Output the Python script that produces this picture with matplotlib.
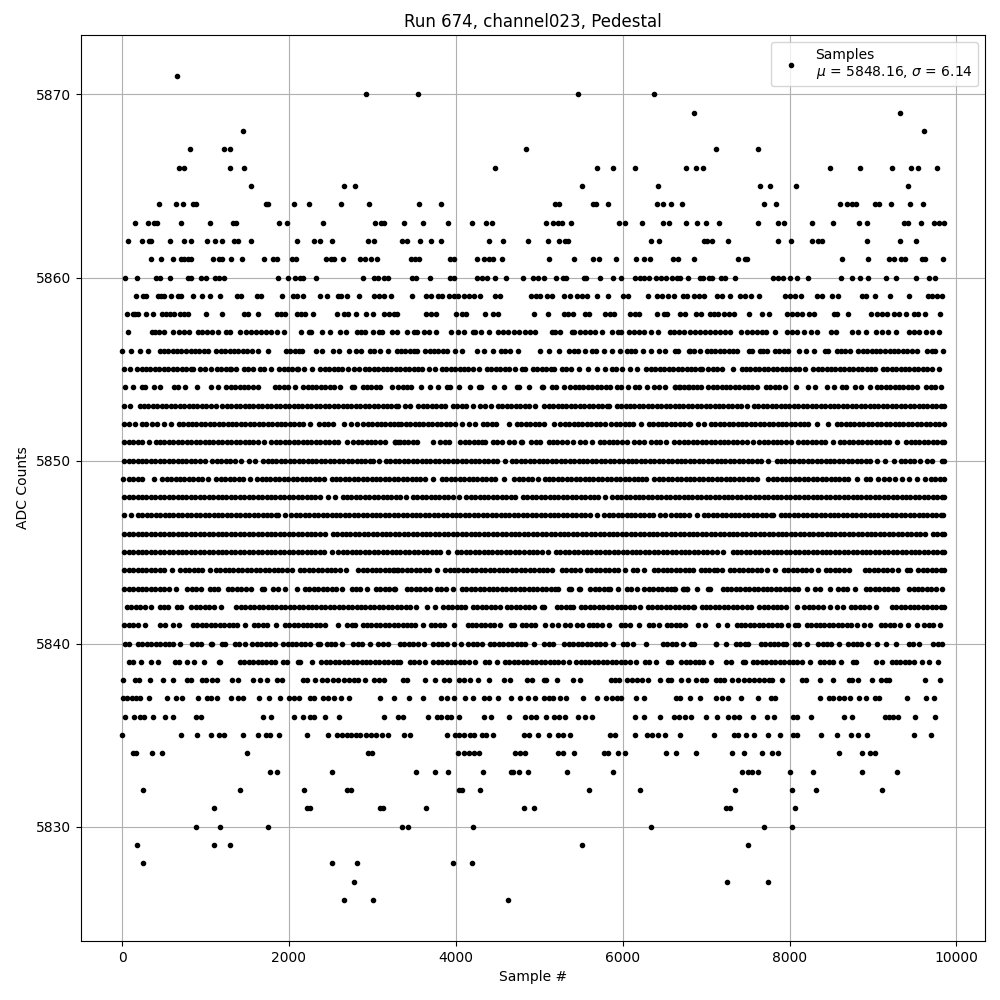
import matplotlib
matplotlib.use('Agg')
import matplotlib.pyplot as plt

# ==========================================================
# Sample numbers, one list per ADC level
# ==========================================================
s5871 = [655]
s5870 = [2918, 3541, 5460, 6372]
s5869 = [6852, 9324]
s5868 = [1445, 9612]
s5867 = [810, 1218, 1290, 4846, 7116, 7620]
s5866 = [680, 740, 1290, 1457, 4475, 5688, 5880, 6144, 6756, 6876, 6960, 8484, 8844, 9228, 9456, 9540, 9768]
s5865 = [1541, 2655, 2786, 5508, 6420, 7644, 7764, 8076, 9420]
s5864 = [440, 643, 727, 848, 890, 1730, 1750, 2056, 2236, 2619, 2954, 3553, 3828, 5192, 5232, 5644, 5680, 5820,
         6408, 6480, 6576, 6708, 7692, 7836, 8604, 8684, 8752, 8792, 9024, 9072, 9216, 9444, 9600]
s5863 = [152, 307, 388, 420, 703, 1050, 1330, 1360, 1876, 1972, 2403, 3026, 3106, 3138, 3373, 3601, 3904, 4188,
         4363, 4430, 5076, 5160, 5220, 5272, 5376, 5960, 6032, 6228, 6484, 6552, 6756, 6888, 6996, 7152, 7616,
         7860, 7932, 8268, 8520, 8832, 8928, 9372, 9424, 9576, 9732, 9790, 9850]
s5862 = [68, 236, 328, 352, 571, 739, 822, 1014, 1110, 1194, 1346, 1394, 1541, 2092, 2296, 2368, 2512, 2942, 3014,
         3350, 3410, 3565, 3697, 3817, 4403, 4561, 4861, 5100, 5240, 5304, 5344, 6336, 6432, 6972, 7012, 7068,
         7260, 7860, 8016, 8268, 8340, 8392, 8928, 9324, 9516]
s5861 = [344, 464, 607, 712, 740, 788, 820, 1086, 1160, 1192, 1302, 1433, 1697, 1812, 1852, 2041, 2081, 2440, 2504,
         2536, 2644, 2856, 2908, 2980, 3052, 3460, 3510, 3560, 3932, 3980, 4250, 4336, 4396, 4448, 4552, 5112,
         5412, 5640, 5712, 5916, 6156, 6252, 6324, 6604, 6660, 6852, 7380, 7460, 7492, 8628, 8940, 9192, 9252,
         9332, 9384, 9584, 9624, 9844]
s5860 = [32, 176, 410, 460, 572, 788, 820, 942, 1006, 1110, 1158, 1222, 1865, 1984, 2077, 2137, 2170, 2320, 2883,
         3023, 3066, 3142, 3186, 3470, 3520, 3685, 3932, 3980, 4250, 4316, 4376, 4472, 4600, 4808, 4928, 4985,
         5052, 5196, 5280, 5320, 5532, 5564, 5724, 5880, 5976, 6152, 6212, 6252, 6312, 6396, 6460, 6524, 6592,
         6652, 6692, 6780, 6932, 6964, 7032, 7072, 7184, 7224, 7344, 7800, 7860, 7920, 8004, 8088, 8224, 8616,
         8744, 8844, 8940, 9156, 9276, 9516, 9672, 9744]
s5859 = [172, 248, 288, 428, 468, 508, 584, 668, 712, 848, 956, 1048, 1172, 1376, 1428, 1616, 1660, 1916, 2044,
         2100, 2164, 2368, 2456, 2584, 2620, 2692, 2840, 3020, 3076, 3136, 3220, 3470, 3640, 3704, 3784, 3840,
         3920, 3976, 4032, 4096, 4156, 4216, 4288, 4472, 4528, 4896, 4956, 5010, 5092, 5152, 5292, 5364, 5448,
         5512, 5572, 5688, 5820, 6000, 6060, 6300, 6412, 6472, 6540, 6612, 6720, 6772, 6852, 6912, 6972, 7128,
         7192, 7284, 7404, 7464, 7532, 7632, 7944, 8004, 8064, 8140, 8332, 8392, 8512, 8580, 8864, 8916, 9024,
         9204, 9432, 9660, 9712, 9772, 9832]
s5858 = [60, 128, 160, 192, 288, 368, 476, 524, 572, 620, 692, 740, 792, 1008, 1196, 1460, 1512, 1628, 1852, 1900,
         1952, 2100, 2140, 2188, 2288, 2576, 2660, 2704, 2808, 2924, 3008, 3140, 3200, 3260, 3300, 3648, 3700,
         3760, 4004, 4080, 4120, 4348, 4440, 4508, 4932, 5100, 5292, 5344, 5404, 5552, 5592, 5792, 5852, 5900,
         6092, 6144, 6196, 6412, 6492, 6532, 6692, 6752, 6880, 6940, 7044, 7092, 7140, 7220, 7272, 7332, 7512,
         7672, 7752, 7968, 8032, 8092, 8152, 8232, 8292, 8532, 8572, 8700, 8972, 9052, 9112, 9172, 9252, 9312,
         9400, 9492, 9540, 9628, 9800]
s5857 = [68, 360, 400, 440, 500, 612, 680, 740, 800, 912, 960, 1012, 1080, 1148, 1240, 1288, 1416, 1488, 1540, 1600,
         1668, 1728, 1788, 1860, 1940, 2144, 2240, 2268, 2400, 2488, 2616, 2688, 2812, 2860, 2912, 3008, 3080,
         3120, 3240, 3292, 3412, 3500, 3532, 3620, 3680, 3764, 3944, 4032, 4100, 4200, 4228, 4300, 4400, 4508,
         4560, 4620, 4700, 4752, 4832, 4892, 4948, 5152, 5192, 5252, 5392, 5412, 5492, 5552, 5612, 5672, 5752,
         5872, 5940, 5980, 6080, 6132, 6192, 6252, 6336, 6420, 6564, 6620, 6680, 6732, 6804, 6872, 6932, 6992,
         7052, 7112, 7172, 7232, 7292, 7420, 7484, 7552, 7612, 7672, 7712, 7824, 7964, 8024, 8092, 8172, 8252,
         8332, 8492, 8552, 8752, 8820, 8912, 9040, 9112, 9180, 9280, 9432, 9492, 9552, 9632, 9712, 9792]
s5856 = [0, 112, 212, 316, 450, 500, 552, 610, 660, 712, 765, 820, 872, 925, 980, 1030, 1130, 1182, 1235, 1290, 1342,
         1395, 1448, 1500, 1555, 1630, 1752, 1962, 2015, 2068, 2120, 2158, 2330, 2398, 2530, 2598, 2720, 2800,
         2868, 2970, 3022, 3090, 3190, 3300, 3340, 3392, 3445, 3498, 3532, 3632, 3685, 3738, 3790, 3845, 3892,
         3992, 4072, 4252, 4332, 4442, 4540, 4592, 4645, 4744, 5012, 5120, 5234, 5360, 5412, 5465, 5544, 5632,
         5685, 5772, 5876, 5972, 6052, 6105, 6152, 6242, 6334, 6432, 6504, 6624, 6664, 6794, 6805, 6858, 6925,
         7005, 7058, 7110, 7165, 7218, 7270, 7322, 7365, 7517, 7545, 7645, 7685, 7735, 7825, 7878, 7930, 7985,
         8115, 8195, 8295, 8425, 8465, 8565, 8618, 8670, 8725, 8825, 8878, 8930, 8985, 9038, 9090, 9145, 9198,
         9250, 9305, 9358, 9410, 9465, 9525, 9653, 9705, 9745, 9835]
s5855 = [25, 95, 182, 235, 288, 340, 395, 448, 500, 555, 608, 660, 715, 768, 820, 850, 938, 990, 1062, 1138, 1190, 1245,
         1298, 1310, 1360, 1458, 1510, 1565, 1650, 1700, 1788, 1882, 1935, 1988, 2040, 2095, 2110, 2180, 2280,
         2378, 2430, 2485, 2538, 2590, 2630, 2708, 2780, 2840, 2910, 2962, 3015, 3068, 3122, 3175, 3228, 3280,
         3335, 3388, 3440, 3495, 3548, 3592, 3674, 3750, 3832, 3885, 3938, 3990, 4045, 4098, 4150, 4205, 4272,
         4372, 4425, 4478, 4530, 4585, 4638, 4704, 4792, 4832, 4924, 4978, 5030, 5082, 5135, 5180, 5272, 5325,
         5378, 5480, 5582, 5692, 5784, 5872, 5925, 5992, 6092, 6172, 6284, 6338, 6390, 6445, 6498, 6550, 6605,
         6658, 6710, 6765, 6818, 6870, 6925, 6945, 7025, 7078, 7130, 7185, 7325, 7425, 7478, 7530, 7585, 7638,
         7690, 7745, 7798, 7850, 7905, 7958, 8010, 8065, 8118, 8185, 8285, 8338, 8390, 8445, 8498, 8550, 8605,
         8658, 8710, 8765, 8818, 8870, 8925, 8978, 9025, 9117, 9170, 9222, 9277, 9330, 9382, 9437, 9490, 9542,
         9597, 9650, 9705, 9795]
s5854 = [30, 130, 238, 278, 378, 450, 618, 670, 758, 900, 1070, 1150, 1250, 1303, 1355, 1410, 1462, 1515, 1570, 1630,
         1830, 1882, 1935, 1990, 2070, 2170, 2223, 2275, 2330, 2382, 2435, 2490, 2542, 2610, 2758, 2782, 2882,
         2935, 2988, 3040, 3090, 3230, 3310, 3362, 3415, 3464, 3580, 3692, 3782, 3892, 3932, 4042, 4174, 4272,
         4300, 4452, 4572, 4732, 4752, 4882, 5032, 5044, 5152, 5205, 5292, 5372, 5425, 5478, 5530, 5585, 5638,
         5690, 5745, 5798, 5850, 5932, 5982, 6062, 6152, 6192, 6290, 6380, 6432, 6512, 6632, 6685, 6792, 6625,
         6678, 6730, 6785, 6838, 6890, 6937, 7025, 7078, 7130, 7185, 7238, 7290, 7345, 7398, 7450, 7505, 7545,
         7615, 7717, 7770, 7822, 7877, 7945, 8075, 8225, 8305, 8445, 8533, 8625, 8677, 8785, 8857, 8967, 9045,
         9098, 9150, 9205, 9258, 9310, 9365, 9418, 9470, 9525, 9637, 9690, 9742, 9817]
s5853 = [25, 90, 210, 263, 316, 370, 423, 476, 530, 583, 636, 690, 743, 796, 850, 903, 956, 1010, 1063, 1130, 1202, 1255,
         1308, 1362, 1415, 1468, 1522, 1575, 1628, 1682, 1735, 1788, 1842, 1895, 1948, 2002, 2055, 2108, 2162,
         2215, 2268, 2322, 2375, 2428, 2482, 2535, 2588, 2642, 2695, 2748, 2802, 2855, 2908, 2962, 3015, 3068,
         3122, 3175, 3228, 3282, 3304, 3392, 3452, 3552, 3605, 3658, 3712, 3765, 3818, 3872, 3964, 4017, 4070,
         4124, 4204, 4292, 4345, 4424, 4504, 4557, 4610, 4664, 4717, 4770, 4824, 4872, 4950, 5060, 5113, 5166,
         5220, 5273, 5326, 5380, 5433, 5486, 5540, 5593, 5646, 5700, 5753, 5806, 5836, 5928, 5981, 6034, 6088,
         6141, 6194, 6248, 6301, 6354, 6408, 6461, 6514, 6568, 6621, 6674, 6728, 6781, 6834, 6888, 6941, 6994,
         7048, 7101, 7154, 7208, 7261, 7314, 7368, 7421, 7485, 7573, 7626, 7679, 7733, 7786, 7839, 7893, 7946,
         7999, 8053, 8106, 8159, 8213, 8266, 8319, 8373, 8426, 8479, 8533, 8586, 8639, 8693, 8746, 8799, 8853,
         8906, 8959, 9013, 9066, 9119, 9173, 9226, 9279, 9333, 9386, 9439, 9493, 9546, 9599, 9653, 9706, 9759, 9813, 9846]
s5852 = [25, 80, 158, 242, 282, 362, 415, 498, 590, 678, 731, 784, 838, 891, 944, 998, 1051, 1104, 1158, 1211, 1264,
         1318, 1371, 1424, 1478, 1531, 1584, 1638, 1691, 1744, 1798, 1851, 1904, 1958, 2011, 2064, 2118, 2171,
         2250, 2362, 2415, 2468, 2522, 2654, 2738, 2810, 2890, 2943, 2996, 3050, 3103, 3156, 3210, 3263, 3310,
         3345, 3398, 3451, 3505, 3558, 3611, 3665, 3718, 3771, 3825, 3878, 3931, 3985, 4080, 4154, 4234, 4324,
         4377, 4430, 4484, 4632, 4732, 4785, 4838, 4892, 4945, 4998, 5052, 5172, 5252, 5305, 5358, 5412, 5465,
         5518, 5572, 5625, 5678, 5732, 5784, 5864, 5917, 5970, 6024, 6077, 6124, 6220, 6312, 6365, 6418, 6472,
         6525, 6578, 6632, 6685, 6738, 6792, 6805, 6905, 6973, 7057, 7110, 7163, 7217, 7270, 7323, 7377, 7430,
         7483, 7537, 7590, 7643, 7697, 7750, 7803, 7857, 7910, 7963, 8017, 8070, 8123, 8177, 8225, 8325, 8465,
         8565, 8618, 8671, 8725, 8778, 8831, 8885, 8938, 8991, 9045, 9098, 9151, 9205, 9258, 9311, 9365, 9418,
         9471, 9525, 9578, 9631, 9685, 9738, 9791, 9848]
s5851 = [25, 80, 133, 186, 240, 318, 402, 455, 508, 562, 615, 668, 722, 775, 828, 882, 935, 988, 1042, 1095, 1148, 1202,
         1255, 1308, 1362, 1415, 1468, 1522, 1575, 1628, 1702, 1790, 1843, 1896, 1950, 2003, 2056, 2110, 2163,
         2216, 2270, 2323, 2376, 2430, 2483, 2536, 2590, 2690, 2770, 2823, 2876, 2930, 2983, 3036, 3090, 3150,
         3270, 3310, 3272, 3325, 3378, 3432, 3485, 3538, 3732, 3812, 3865, 3924, 4052, 4105, 4158, 4212, 4265,
         4318, 4344, 4444, 4497, 4550, 4632, 4694, 4792, 4784, 4904, 4957, 5012, 5112, 5165, 5218, 5272, 5332,
         5402, 5492, 5552, 5638, 5724, 5777, 5830, 5884, 5937, 5990, 6056, 6140, 6193, 6252, 6344, 6397, 6450,
         6524, 6620, 6680, 6735, 6788, 6841, 6895, 6948, 7001, 7055, 7108, 7161, 7215, 7268, 7321, 7375, 7428,
         7485, 7567, 7637, 7690, 7743, 7797, 7850, 7903, 7957, 8017, 8105, 8158, 8211, 8265, 8318, 8371, 8425,
         8525, 8605, 8658, 8711, 8765, 8818, 8871, 8925, 8978, 9031, 9085, 9138, 9191, 9285, 9397, 9450, 9503,
         9557, 9610, 9663, 9717, 9770, 9823, 9850]
s5850 = [25, 78, 131, 185, 238, 291, 345, 398, 451, 505, 558, 611, 665, 718, 771, 825, 878, 931, 998, 1082, 1135, 1188,
         1242, 1295, 1348, 1430, 1522, 1590, 1690, 1743, 1796, 1850, 1903, 1956, 2010, 2063, 2116, 2170, 2223,
         2276, 2330, 2383, 2436, 2490, 2543, 2596, 2650, 2703, 2756, 2810, 2863, 2916, 2970, 3010, 3080, 3162,
         3215, 3268, 3322, 3375, 3430, 3483, 3536, 3590, 3643, 3696, 3750, 3803, 3856, 3910, 3963, 4016, 4070,
         4123, 4176, 4230, 4283, 4336, 4390, 4443, 4496, 4592, 4672, 4725, 4778, 4832, 4885, 4938, 4992, 5045,
         5098, 5152, 5205, 5258, 5312, 5365, 5418, 5472, 5525, 5578, 5632, 5685, 5738, 5792, 5845, 5898, 5952,
         6005, 6058, 6112, 6165, 6218, 6272, 6325, 6378, 6432, 6485, 6538, 6592, 6645, 6698, 6752, 6805, 6858,
         6912, 6965, 7018, 7072, 7125, 7178, 7232, 7285, 7338, 7392, 7445, 7498, 7552, 7605, 7658, 7737, 7845,
         7898, 7951, 8005, 8058, 8111, 8165, 8218, 8271, 8325, 8378, 8431, 8485, 8538, 8591, 8645, 8698, 8751,
         8805, 8858, 8911, 8965, 9045, 9145, 9257, 9333, 9386, 9439, 9493, 9565, 9653, 9705, 9825, 9850]
s5849 = [8, 82, 135, 188, 242, 382, 482, 535, 588, 642, 695, 748, 802, 855, 908, 962, 1030, 1130, 1183, 1236, 1290,
         1343, 1396, 1450, 1534, 1618, 1671, 1724, 1778, 1831, 1884, 1938, 1991, 2044, 2098, 2151, 2204, 2258,
         2311, 2364, 2422, 2510, 2563, 2616, 2670, 2723, 2776, 2830, 2883, 2936, 2990, 3043, 3096, 3150, 3203,
         3256, 3310, 3363, 3416, 3470, 3523, 3576, 3632, 3722, 3832, 3885, 3938, 3992, 4045, 4098, 4152, 4205,
         4258, 4312, 4365, 4418, 4472, 4572, 4700, 4753, 4806, 4860, 4913, 4980, 5064, 5117, 5170, 5224, 5277,
         5330, 5384, 5437, 5490, 5544, 5597, 5650, 5704, 5757, 5810, 5864, 5917, 5970, 6024, 6077, 6130, 6184,
         6237, 6284, 6380, 6433, 6486, 6540, 6593, 6646, 6700, 6753, 6806, 6860, 6913, 6966, 7020, 7073, 7126,
         7180, 7233, 7286, 7340, 7393, 7446, 7500, 7553, 7605, 7745, 7798, 7851, 7905, 7958, 8011, 8065, 8118,
         8171, 8225, 8278, 8331, 8385, 8438, 8491, 8545, 8598, 8651, 8705, 8807, 8917, 8970, 9057, 9133, 9186,
         9265, 9345, 9433, 9533, 9625, 9693, 9746, 9799, 9850]
s5848 = [25, 78, 131, 185, 238, 291, 345, 398, 451, 505, 558, 611, 665, 718, 771, 825, 878, 931, 985, 1038, 1091, 1145,
         1198, 1251, 1305, 1358, 1411, 1465, 1518, 1571, 1625, 1678, 1731, 1785, 1838, 1891, 1945, 1998, 2051,
         2105, 2158, 2211, 2265, 2318, 2370, 2470, 2550, 2642, 2695, 2748, 2802, 2855, 2908, 2962, 3015, 3068,
         3122, 3175, 3228, 3282, 3335, 3400, 3484, 3537, 3590, 3644, 3697, 3750, 3804, 3857, 3910, 3964, 4040,
         4124, 4177, 4230, 4284, 4337, 4390, 4444, 4497, 4550, 4604, 4657, 4712, 4804, 4857, 4910, 4964, 5017,
         5070, 5124, 5177, 5230, 5284, 5337, 5390, 5444, 5497, 5550, 5604, 5657, 5710, 5784, 5876, 5929, 5982,
         6036, 6089, 6142, 6196, 6249, 6302, 6356, 6409, 6462, 6516, 6569, 6622, 6676, 6729, 6782, 6836, 6889,
         6942, 6996, 7049, 7102, 7156, 7209, 7262, 7316, 7369, 7422, 7476, 7529, 7582, 7636, 7689, 7742, 7796,
         7849, 7902, 7956, 8009, 8062, 8116, 8169, 8222, 8276, 8329, 8382, 8436, 8489, 8542, 8596, 8649, 8702,
         8756, 8809, 8862, 8916, 8969, 9022, 9076, 9129, 9182, 9236, 9289, 9342, 9396, 9449, 9502, 9556, 9609,
         9662, 9716, 9769, 9822, 9846]
s5847 = [25, 110, 190, 243, 296, 350, 403, 456, 510, 563, 616, 670, 723, 776, 830, 883, 936, 990, 1043, 1096, 1150, 1203,
         1256, 1310, 1363, 1416, 1470, 1523, 1576, 1630, 1683, 1736, 1790, 1843, 1870, 1948, 2030, 2083, 2136,
         2190, 2243, 2296, 2350, 2403, 2456, 2510, 2563, 2616, 2670, 2723, 2776, 2830, 2883, 2936, 2990, 3043,
         3096, 3150, 3203, 3256, 3310, 3363, 3416, 3470, 3523, 3576, 3630, 3683, 3736, 3790, 3843, 3896, 3950,
         4003, 4056, 4110, 4163, 4216, 4270, 4323, 4376, 4430, 4483, 4536, 4590, 4643, 4696, 4750, 4803, 4856,
         4910, 4963, 5016, 5070, 5123, 5176, 5230, 5283, 5336, 5390, 5443, 5496, 5550, 5603, 5692, 5780, 5833,
         5886, 5940, 5993, 6046, 6100, 6153, 6206, 6260, 6313, 6366, 6452, 6502, 6580, 6633, 6686, 6740, 6793,
         6885, 6973, 7026, 7079, 7133, 7186, 7239, 7293, 7346, 7399, 7453, 7506, 7559, 7613, 7666, 7719, 7773,
         7805, 7893, 7946, 7999, 8053, 8106, 8159, 8213, 8266, 8319, 8373, 8426, 8479, 8533, 8586, 8639, 8693,
         8746, 8799, 8853, 8906, 8959, 9013, 9066, 9119, 9173, 9226, 9279, 9333, 9386, 9439, 9493, 9546, 9599,
         9653, 9706, 9759, 9813, 9843]
s5846 = [25, 78, 131, 185, 238, 291, 345, 398, 451, 505, 558, 611, 665, 718, 771, 825, 878, 931, 985, 1038, 1091, 1145,
         1198, 1251, 1305, 1358, 1411, 1465, 1518, 1571, 1625, 1678, 1731, 1785, 1838, 1891, 1945, 1998, 2051,
         2105, 2158, 2211, 2265, 2318, 2371, 2430, 2530, 2570, 2630, 2683, 2736, 2790, 2843, 2896, 2950, 3003,
         3056, 3110, 3163, 3216, 3270, 3323, 3376, 3430, 3483, 3536, 3590, 3643, 3696, 3750, 3803, 3856, 3910,
         3963, 4016, 4070, 4123, 4176, 4230, 4283, 4336, 4390, 4443, 4496, 4550, 4603, 4656, 4710, 4763, 4816,
         4870, 4923, 4976, 5030, 5083, 5136, 5190, 5243, 5296, 5350, 5403, 5456, 5510, 5563, 5616, 5670, 5723,
         5776, 5830, 5883, 5936, 5990, 6043, 6096, 6150, 6203, 6256, 6310, 6363, 6416, 6470, 6523, 6576, 6630,
         6683, 6736, 6790, 6843, 6896, 6950, 7003, 7056, 7110, 7163, 7216, 7270, 7323, 7376, 7430, 7483, 7536,
         7590, 7643, 7696, 7750, 7803, 7856, 7910, 7963, 8016, 8070, 8123, 8176, 8230, 8283, 8336, 8390, 8443,
         8496, 8550, 8603, 8656, 8710, 8763, 8816, 8870, 8923, 8976, 9030, 9083, 9136, 9190, 9243, 9296, 9350,
         9403, 9456, 9510, 9563, 9625, 9717, 9770, 9823, 9847]
s5845 = [25, 78, 131, 185, 238, 291, 345, 398, 451, 505, 558, 611, 665, 718, 771, 825, 878, 931, 985, 1038, 1091, 1145,
         1198, 1251, 1305, 1358, 1411, 1465, 1518, 1571, 1625, 1678, 1731, 1785, 1838, 1891, 1945, 1998, 2051,
         2105, 2158, 2211, 2265, 2318, 2371, 2425, 2510, 2590, 2643, 2696, 2750, 2803, 2856, 2910, 2963, 3016,
         3070, 3123, 3176, 3230, 3283, 3336, 3390, 3443, 3496, 3550, 3603, 3656, 3710, 3763, 3816, 3904, 4012,
         4065, 4118, 4172, 4225, 4278, 4332, 4385, 4438, 4492, 4545, 4598, 4652, 4705, 4758, 4812, 4872, 4925,
         4978, 5032, 5104, 5200, 5253, 5306, 5360, 5413, 5466, 5520, 5573, 5626, 5680, 5733, 5786, 5840, 5893,
         5946, 6000, 6053, 6106, 6160, 6213, 6266, 6320, 6373, 6426, 6480, 6533, 6586, 6640, 6693, 6746, 6800,
         6853, 6906, 6960, 7013, 7066, 7125, 7205, 7317, 7370, 7423, 7477, 7530, 7583, 7637, 7690, 7743, 7797,
         7850, 7903, 7957, 8010, 8063, 8117, 8170, 8223, 8277, 8330, 8383, 8437, 8490, 8543, 8597, 8650, 8703,
         8757, 8810, 8863, 8917, 8970, 9023, 9077, 9130, 9183, 9237, 9290, 9343, 9397, 9450, 9503, 9557, 9610,
         9663, 9717, 9770, 9823, 9850]
s5844 = [25, 78, 131, 185, 238, 291, 345, 398, 451, 505, 598, 698, 751, 804, 858, 911, 958, 1050, 1122, 1175, 1228, 1282,
         1335, 1388, 1442, 1495, 1548, 1602, 1655, 1708, 1762, 1815, 1868, 1922, 1975, 2038, 2130, 2183, 2236,
         2290, 2343, 2396, 2450, 2503, 2556, 2610, 2678, 2830, 2883, 2936, 2990, 3043, 3096, 3150, 3203, 3256,
         3298, 3252, 3305, 3358, 3412, 3465, 3518, 3572, 3625, 3678, 3772, 3872, 3925, 3978, 4032, 4085, 4138,
         4192, 4245, 4298, 4352, 4405, 4458, 4512, 4565, 4618, 4672, 4725, 4778, 4832, 4885, 4938, 4992, 5045,
         5098, 5152, 5272, 5325, 5378, 5432, 5492, 5572, 5625, 5678, 5732, 5785, 5838, 5892, 5945, 6032, 6124,
         6177, 6260, 6372, 6425, 6478, 6532, 6585, 6638, 6692, 6745, 6798, 6845, 6933, 6986, 7039, 7093, 7125,
         7195, 7285, 7338, 7391, 7445, 7498, 7551, 7605, 7658, 7725, 7827, 7933, 7986, 8039, 8093, 8146, 8199,
         8253, 8345, 8437, 8490, 8543, 8597, 8650, 8713, 8905, 8958, 9011, 9065, 9118, 9171, 9225, 9305, 9405,
         9445, 9545, 9598, 9651, 9705, 9758, 9811, 9850]
s5843 = [25, 78, 131, 185, 238, 291, 345, 398, 451, 505, 558, 650, 782, 835, 888, 950, 1050, 1103, 1150, 1270, 1323,
         1376, 1430, 1483, 1542, 1682, 1698, 1810, 1863, 1958, 2100, 2190, 2243, 2296, 2350, 2403, 2456, 2510,
         2563, 2630, 2750, 2803, 2856, 2930, 3042, 3095, 3148, 3202, 3262, 3272, 3412, 3465, 3518, 3572, 3625,
         3692, 3772, 3825, 3878, 3972, 4072, 4125, 4178, 4232, 4285, 4338, 4392, 4445, 4498, 4552, 4605, 4658,
         4712, 4765, 4818, 4872, 4925, 4978, 5032, 5085, 5138, 5192, 5224, 5360, 5384, 5472, 5492, 5612, 5665,
         5718, 5772, 5825, 5852, 5942, 6052, 6105, 6172, 6260, 6313, 6366, 6420, 6473, 6526, 6580, 6632, 6732,
         6772, 6617, 6725, 6765, 6895, 7025, 7045, 7197, 7250, 7303, 7357, 7410, 7463, 7517, 7570, 7623, 7677,
         7730, 7783, 7837, 7890, 7943, 7997, 8050, 8107, 8205, 8305, 8370, 8485, 8585, 8638, 8691, 8785, 8917,
         8970, 9023, 9077, 9130, 9183, 9237, 9293, 9433, 9486, 9539, 9593, 9646, 9699, 9753, 9825]
s5842 = [58, 111, 164, 218, 271, 342, 450, 503, 550, 658, 702, 830, 883, 936, 990, 1043, 1096, 1182, 1370, 1423, 1476,
         1530, 1583, 1636, 1690, 1743, 1796, 1850, 1903, 1956, 2010, 2063, 2116, 2170, 2223, 2276, 2330, 2383,
         2436, 2490, 2543, 2596, 2650, 2703, 2756, 2810, 2863, 2916, 2970, 3023, 3076, 3130, 3183, 3236, 3292,
         3345, 3398, 3452, 3524, 3652, 3752, 3852, 3905, 3958, 4012, 4065, 4112, 4204, 4257, 4310, 4364, 4417,
         4470, 4532, 4612, 4665, 4718, 4772, 4825, 4878, 4932, 5032, 5060, 5212, 5265, 5318, 5372, 5400, 5500,
         5553, 5606, 5660, 5713, 5766, 5820, 5873, 5926, 5980, 6033, 6086, 6140, 6212, 6304, 6357, 6410, 6464,
         6517, 6570, 6624, 6677, 6730, 6784, 6837, 6857, 6945, 6998, 7051, 7105, 7158, 7211, 7265, 7318, 7371,
         7425, 7485, 7535, 7637, 7690, 7743, 7797, 7850, 7903, 7957, 8085, 8177, 8230, 8283, 8337, 8405, 8485,
         8573, 8635, 8737, 8790, 8843, 8897, 8950, 9037, 9225, 9278, 9331, 9385, 9438, 9491, 9545, 9598, 9651,
         9705, 9758, 9811, 9850]
s5841 = [25, 78, 131, 185, 270, 458, 511, 610, 680, 850, 903, 956, 1010, 1063, 1116, 1170, 1223, 1276, 1330, 1383, 1470,
         1578, 1631, 1684, 1738, 1850, 1950, 2003, 2056, 2110, 2163, 2216, 2270, 2323, 2376, 2430, 2582, 2698,
         2751, 2790, 2882, 2935, 2988, 3042, 3095, 3148, 3202, 3255, 3308, 3362, 3415, 3468, 3512, 3612, 3700,
         3753, 3806, 3860, 3984, 4140, 4193, 4246, 4300, 4353, 4406, 4460, 4532, 4660, 4692, 4792, 4845, 4898,
         4952, 5072, 5152, 5224, 5312, 5365, 5452, 5510, 5592, 5645, 5698, 5752, 5832, 5980, 6033, 6086, 6192,
         6312, 6365, 6440, 6532, 6585, 6638, 6692, 6745, 6905, 6985, 7145, 7245, 7365, 7418, 7471, 7525, 7578,
         7631, 7685, 7738, 7791, 7845, 7898, 7985, 8065, 8097, 8205, 8258, 8311, 8365, 8418, 8471, 8525, 8578,
         8631, 8685, 8738, 8805, 8887, 8967, 9093, 9146, 9199, 9253, 9325, 9423, 9523, 9613, 9666, 9719, 9805]
s5840 = [30, 78, 190, 243, 296, 350, 403, 456, 510, 563, 610, 700, 842, 895, 950, 1070, 1078, 1202, 1238, 1350, 1403,
         1470, 1562, 1615, 1668, 1722, 1775, 1830, 1930, 1983, 2036, 2090, 2143, 2196, 2250, 2350, 2370, 2450,
         2503, 2556, 2638, 2770, 2823, 2876, 2970, 3070, 3123, 3182, 3330, 3383, 3436, 3490, 3543, 3622, 3730,
         3783, 3836, 3890, 3974, 4060, 4150, 4203, 4256, 4310, 4410, 4463, 4516, 4570, 4623, 4676, 4730, 4783,
         4830, 4942, 5062, 5115, 5162, 5302, 5355, 5408, 5462, 5515, 5568, 5622, 5675, 5728, 5782, 5882, 6002,
         6055, 6122, 6282, 6482, 6535, 6588, 6642, 6722, 6822, 6850, 7114, 7122, 7236, 7354, 7407, 7460, 7502,
         7654, 7707, 7760, 7814, 7867, 7920, 7962, 8062, 8115, 8214, 8342, 8395, 8448, 8502, 8590, 8702, 8755,
         8808, 8862, 8942, 9052, 9156, 9276, 9430, 9483, 9550, 9722, 9775, 9830]
s5839 = [82, 135, 222, 350, 430, 630, 683, 782, 860, 980, 1158, 1170, 1410, 1463, 1516, 1570, 1623, 1676, 1730, 1783, 1836,
         1930, 1980, 2110, 2130, 2276, 2390, 2443, 2496, 2550, 2603, 2656, 2710, 2763, 2816, 2870, 2923, 2976,
         3030, 3083, 3136, 3190, 3243, 3300, 3330, 3450, 3503, 3556, 3630, 3730, 3783, 3836, 3890, 3943, 3996,
         4050, 4103, 4156, 4230, 4350, 4403, 4490, 4590, 4643, 4696, 4750, 4803, 4856, 4910, 4963, 5016, 5070,
         5123, 5176, 5230, 5283, 5362, 5442, 5495, 5548, 5602, 5655, 5708, 5762, 5815, 5868, 5922, 5975, 6028,
         6082, 6162, 6262, 6315, 6402, 6542, 6582, 6702, 6755, 6808, 6862, 6915, 6968, 7062, 7234, 7302, 7442,
         7462, 7562, 7615, 7668, 7722, 7775, 7828, 7882, 7935, 7988, 8042, 8095, 8148, 8242, 8362, 8415, 8468,
         8522, 8622, 8762, 8802, 9042, 9102, 9222, 9275, 9328, 9382, 9435, 9488, 9582, 9672, 9784]
s5838 = [8, 152, 208, 332, 492, 608, 772, 820, 960, 1008, 1080, 1140, 1316, 1388, 1568, 1652, 1740, 1860, 1920, 2164,
         2212, 2312, 2400, 2460, 2528, 2588, 2660, 2720, 2780, 2832, 2912, 3020, 3080, 3140, 3372, 3412, 3632,
         3752, 3860, 3920, 4040, 4100, 4172, 4260, 4400, 4572, 4644, 4852, 4908, 5052, 5084, 5208, 5404, 5484,
         5860, 5912, 5952, 6052, 6112, 6172, 6232, 6300, 6444, 6540, 6580, 6696, 6780, 6876, 6952, 6996, 7116,
         7172, 7216, 7308, 7388, 7452, 7512, 7572, 7632, 7692, 7752, 7792, 7912, 8152, 8192, 8364, 8520, 8712,
         8752, 8820, 8988, 9100, 9152, 9196, 9628, 9808]
s5837 = [12, 60, 124, 172, 220, 320, 536, 644, 716, 908, 1012, 1060, 1140, 1304, 1392, 1452, 1640, 1760, 1896, 2000,
         2060, 2120, 2252, 2300, 2412, 2468, 2540, 2628, 2720, 3092, 3260, 3440, 3608, 3820, 3896, 3980, 4112,
         4208, 4340, 4400, 4500, 4656, 4772, 4860, 4948, 5060, 5112, 5164, 5244, 5316, 5528, 5688, 5796, 5872,
         5932, 5984, 6156, 6252, 6644, 6692, 6812, 6932, 7116, 7192, 7260, 7416, 7616, 7772, 7820, 8364, 8472,
         8524, 8592, 8652, 8728, 8832, 8912, 9020, 9072, 9408, 9636, 9732]
s5836 = [32, 140, 220, 260, 368, 512, 608, 880, 940, 1688, 1784, 2060, 2168, 2252, 2300, 2432, 2600, 3140, 3308,
         3364, 3668, 3772, 3820, 3900, 3948, 4040, 4340, 4424, 4640, 4828, 4900, 4960, 5076, 5180, 5232, 5308,
         5460, 5552, 5628, 6144, 6252, 6444, 6612, 6672, 6744, 6820, 7000, 7128, 7260, 7340, 7392, 7560, 7732,
         7812, 8040, 8084, 8256, 8652, 8748, 9140, 9192, 9244, 9300, 9504, 9744]
s5835 = [0, 704, 896, 1064, 1160, 1220, 1444, 1624, 1720, 1768, 1880, 2216, 2468, 2572, 2640, 2692, 2740, 2800, 2848,
         2924, 2988, 3040, 3112, 3188, 3380, 3452, 3896, 3992, 4040, 4100, 4172, 4212, 4312, 4360, 4448, 4820,
         4880, 4984, 5120, 5220, 5280, 5372, 5844, 5912, 6144, 6292, 6352, 6420, 6504, 6684, 7092, 7332, 7380,
         7476, 7572, 7740, 7884, 8040, 8092, 8376, 8572, 8736, 8820, 8928, 9492, 9696]
s5834 = [132, 164, 356, 476, 1496, 2948, 3000, 4028, 4100, 4160, 4220, 4280, 4712, 4772, 4832, 5220, 5280, 5412, 5780,
         5828, 5940, 6024, 6516, 6636, 6876, 7308, 7452, 7668, 7788, 7860, 8592, 8868, 8964, 9024]
s5833 = [1772, 1856, 2516, 3524, 3752, 3908, 4328, 4660, 4688, 4760, 4868, 5328, 5880, 7428, 7500, 7552, 7620, 8004,
         8280, 8868, 9288]
s5832 = [248, 1412, 2180, 2692, 2740, 4040, 4072, 4292, 5592, 6204, 7344, 8028, 8316, 9108]
s5831 = [1100, 2212, 2252, 3092, 3132, 3644, 4820, 4940, 7236, 7292, 8064]
s5830 = [884, 1172, 1748, 3356, 3428, 4208, 6336, 7692, 8028]
s5829 = [176, 1100, 1292, 5508, 7500]
s5828 = [248, 2516, 2816, 3968, 4196]
s5827 = [2780, 7248, 7740]
s5826 = [2660, 3008, 4628]

levels = [5871, 5870, 5869, 5868, 5867, 5866, 5865, 5864, 5863, 5862, 5861, 5860, 5859, 5858, 5857, 5856,
          5855, 5854, 5853, 5852, 5851, 5850, 5849, 5848, 5847, 5846, 5845, 5844, 5843, 5842, 5841, 5840,
          5839, 5838, 5837, 5836, 5835, 5834, 5833, 5832, 5831, 5830, 5829, 5828, 5827, 5826]
rows = [s5871, s5870, s5869, s5868, s5867, s5866, s5865, s5864, s5863, s5862, s5861, s5860, s5859, s5858, s5857, s5856,
        s5855, s5854, s5853, s5852, s5851, s5850, s5849, s5848, s5847, s5846, s5845, s5844, s5843, s5842, s5841, s5840,
        s5839, s5838, s5837, s5836, s5835, s5834, s5833, s5832, s5831, s5830, s5829, s5828, s5827, s5826]

mean_adc = 5848.16
std_adc = 6.14

x = []
y = []
for level, row in zip(levels, rows):
    x.extend(row)
    y.extend([level] * len(row))

# ==========================================================
# Plot
# ==========================================================
plt.figure(figsize=(10, 10), dpi=100)
plt.plot(x, y, '.k', label=f'Samples\n$\\mu$ = {mean_adc:.2f}, $\\sigma$ = {std_adc:.2f}')
plt.title('Run 674, channel023, Pedestal')
plt.xlabel('Sample #')
plt.ylabel('ADC Counts')
plt.legend(loc='upper right')
plt.grid()
plt.subplots_adjust(left=0.081, right=0.985, top=0.965, bottom=0.059)
plt.savefig('out.png')
